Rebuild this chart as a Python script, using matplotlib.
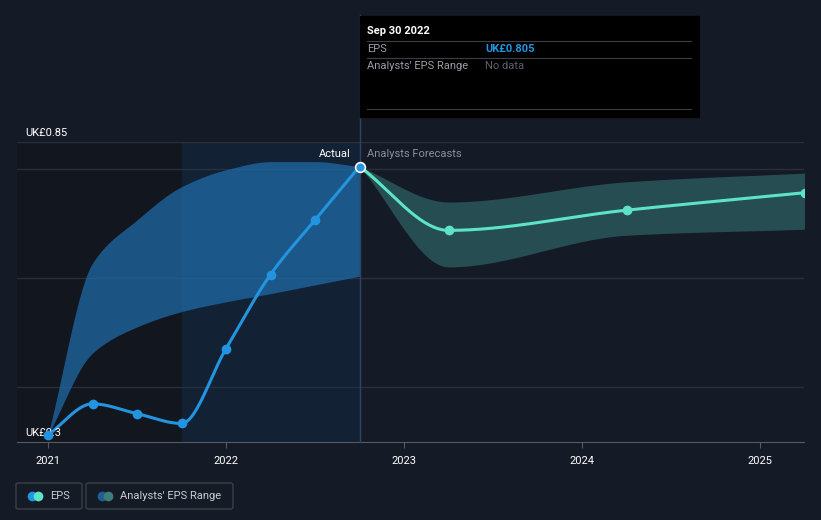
import matplotlib.pyplot as plt
import numpy as np
from matplotlib.patches import Rectangle, FancyBboxPatch

plt.rcParams['font.family'] = ['Roboto', 'DejaVu Sans']

# dados de EPS (UK£), datas em anos decimais
eps_datas = [2021.0, 2021.25, 2021.5, 2021.75, 2022.0, 2022.25, 2022.5, 2022.75]
eps_valores = [0.313, 0.370, 0.352, 0.334, 0.471, 0.607, 0.707, 0.805]

prev_datas = [2022.75, 2023.25, 2024.25, 2025.25]
prev_valores = [0.805, 0.688, 0.725, 0.757]
prev_alto = [0.805, 0.740, 0.777, 0.793]
prev_baixo = [0.805, 0.621, 0.679, 0.690]

hist_datas = [2021.0, 2021.25, 2021.5, 2021.75, 2022.0, 2022.25, 2022.5, 2022.75]
hist_alto = [0.313, 0.628, 0.707, 0.768, 0.799, 0.814, 0.814, 0.805]
hist_baixo = [0.313, 0.463, 0.511, 0.539, 0.557, 0.572, 0.588, 0.604]

anos = [2021, 2022, 2023, 2024, 2025]
grade = [0.4, 0.6, 0.8]

fundo = '#151b26'
azul = '#2394df'
verde = '#5de4c7'


def suave(x, y, n=200):
    # curva monotona (Fritsch-Carlson) so para desenhar
    x = np.asarray(x, float)
    y = np.asarray(y, float)
    h = np.diff(x)
    d = np.diff(y) / h
    m = np.zeros_like(y)
    m[0], m[-1] = d[0], d[-1]
    for i in range(1, len(y) - 1):
        if d[i - 1] * d[i] > 0:
            w1 = 2 * h[i] + h[i - 1]
            w2 = h[i] + 2 * h[i - 1]
            m[i] = (w1 + w2) / (w1 / d[i - 1] + w2 / d[i])
    xs = np.linspace(x[0], x[-1], n)
    k = np.clip(np.searchsorted(x, xs) - 1, 0, len(x) - 2)
    t = (xs - x[k]) / h[k]
    h00 = 2 * t**3 - 3 * t**2 + 1
    h10 = t**3 - 2 * t**2 + t
    h01 = -2 * t**3 + 3 * t**2
    h11 = t**3 - t**2
    ys = h00 * y[k] + h10 * h[k] * m[k] + h01 * y[k + 1] + h11 * h[k] * m[k + 1]
    return xs, ys


fig = plt.figure(figsize=(8.21, 5.2), dpi=100, facecolor=fundo)
ax = fig.add_axes([17 / 821, 78 / 520, 787 / 821, 300 / 520])
ax.set_facecolor(fundo)
x0 = 2021 - 31 / 178
x1 = 2021 + 756 / 178
ax.set_xlim(x0, x1)
ax.set_ylim(0.3, 0.85)

# regioes de fundo
ax.add_patch(Rectangle((x0, 0.3), 2021.75 - x0, 0.55, color='#12161e', zorder=0))
ax.add_patch(Rectangle((2021.75, 0.3), 1.0, 0.55, color='#13233a', alpha=0.8, zorder=0))

for g in grade:
    ax.axhline(g, color='#2a303b', lw=1, zorder=1)
ax.axhline(0.85, color='#2a303b', lw=1, zorder=1)

# faixas
xs, ya = suave(hist_datas, hist_alto)
_, yb = suave(hist_datas, hist_baixo)
ax.fill_between(xs, yb, ya, color='#1f6aa5', alpha=0.75, lw=0, zorder=2)

xs2, ya2 = suave(prev_datas, prev_alto)
_, yb2 = suave(prev_datas, prev_baixo)
ax.fill_between(xs2, yb2, ya2, color='#2b5a5c', alpha=0.8, lw=0, zorder=2)

# linhas
xl, yl = suave(eps_datas, eps_valores)
ax.plot(xl, yl, color=azul, lw=2.2, zorder=3)
ax.plot(eps_datas[:-1], eps_valores[:-1], 'o', color=azul, ms=6, zorder=4)
xp, yp = suave(prev_datas, prev_valores)
ax.plot(xp, yp, color=verde, lw=2.2, zorder=3)
ax.plot(prev_datas[1:], prev_valores[1:], 'o', color=verde, ms=6, zorder=4)
ax.plot(eps_datas[-1], eps_valores[-1], 'o', color=azul, ms=7, mec='white', mew=1.2, zorder=5)

# linha vertical do "Actual"
ax.plot([2022.75, 2022.75], [0.3, 1.083], color='#2a4560', lw=1, clip_on=False, zorder=3)

ax.set_xticks(anos)
ax.set_xticklabels([str(a) for a in anos], color='white', fontsize=8)
ax.tick_params(axis='x', colors='#555b66', length=4, pad=6, labelcolor='white')
ax.set_yticks([])
for s in ['top', 'right', 'left']:
    ax.spines[s].set_visible(False)
ax.spines['bottom'].set_color('#555b66')

ax.text(x0 + 0.045, 0.85 + 0.008, 'UK£0.85', color='white', fontsize=8, va='bottom')
ax.text(x0 + 0.045, 0.3 + 0.008, 'UK£0.3', color='white', fontsize=8, va='bottom')
ax.text(2022.70, 0.828, 'Actual', color='white', fontsize=8, ha='right', va='center')
ax.text(2022.79, 0.828, 'Analysts Forecasts', color='#8a8f98', fontsize=8, ha='left', va='center')

# caixa de informacao
fig.patches.append(Rectangle((360 / 821, 1 - 117 / 520), 339 / 821, 101 / 520,
                             transform=fig.transFigure, color='black', zorder=10))
for yy in [41, 58, 109]:
    fig.add_artist(plt.Line2D([367 / 821, 691 / 821], [1 - yy / 520] * 2,
                              color='#3a3f47', lw=0.8, zorder=11))
fig.text(367 / 821, 1 - 31 / 520, 'Sep 30 2022', color='white', fontsize=8,
         fontweight='bold', va='center', zorder=12)
fig.text(367 / 821, 1 - 49 / 520, 'EPS', color='#9a9ea6', fontsize=8, va='center', zorder=12)
fig.text(485 / 821, 1 - 49 / 520, 'UK£0.805', color=azul, fontsize=8,
         fontweight='bold', va='center', zorder=12)
fig.text(367 / 821, 1 - 66 / 520, "Analysts' EPS Range", color='#9a9ea6', fontsize=8,
         va='center', zorder=12)
fig.text(485 / 821, 1 - 66 / 520, 'No data', color='#5c6068', fontsize=8, va='center', zorder=12)

# legenda
for (bx, bw, txt, c1, c2) in [(16, 66, 'EPS', azul, verde),
                              (86, 147, "Analysts' EPS Range", '#1f5f90', '#3e7e7a')]:
    fig.patches.append(FancyBboxPatch((bx / 821, 1 - 509 / 520), bw / 821, 26 / 520,
                                      boxstyle='round,pad=0,rounding_size=0.003',
                                      transform=fig.transFigure, fc=fundo,
                                      ec='#3a3f47', lw=1))
    fig.add_artist(plt.Line2D([(bx + 16) / 821], [1 - 496 / 520], marker='o', ms=7,
                              color=c1, mec='none'))
    fig.add_artist(plt.Line2D([(bx + 22) / 821], [1 - 496 / 520], marker='o', ms=7,
                              color=c2, mec='none'))
    fig.text((bx + 34) / 821, 1 - 496 / 520, txt, color='#c8ccd2', fontsize=8, va='center')

fig.savefig('out.png', dpi=100, facecolor=fundo)
